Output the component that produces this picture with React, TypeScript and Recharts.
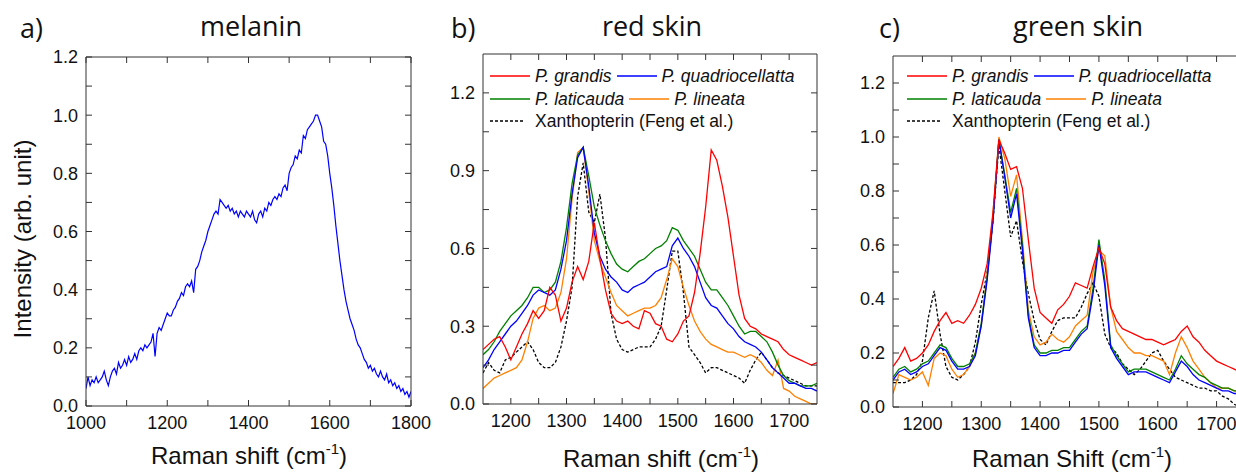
import { Legend, Line, LineChart, XAxis, YAxis } from "recharts";

// Panel a: melanin, sampled every 5 cm-1 from 1000 to 1800
const SHIFT_A = Array.from({ length: 161 }, (_, i) => 1000 + 5 * i);
const MELANIN = [
  0.06, 0.10, 0.07, 0.09, 0.08, 0.10, 0.08, 0.09, 0.10, 0.12,
  0.09, 0.07, 0.10, 0.12, 0.13, 0.11, 0.15, 0.13, 0.14, 0.16,
  0.14, 0.17, 0.15, 0.16, 0.18, 0.16, 0.19, 0.20, 0.19, 0.21,
  0.20, 0.21, 0.22, 0.25, 0.17, 0.25, 0.27, 0.26, 0.28, 0.30,
  0.32, 0.31, 0.31, 0.33, 0.34, 0.36, 0.37, 0.39, 0.38, 0.41,
  0.42, 0.41, 0.43, 0.39, 0.47, 0.48, 0.50, 0.53, 0.55, 0.57,
  0.60, 0.62, 0.64, 0.66, 0.67, 0.66, 0.71, 0.70, 0.69, 0.68,
  0.69, 0.67, 0.68, 0.66, 0.67, 0.65, 0.67, 0.66, 0.65, 0.67,
  0.66, 0.65, 0.67, 0.64, 0.63, 0.66, 0.67, 0.65, 0.68, 0.67,
  0.70, 0.69, 0.71, 0.72, 0.71, 0.73, 0.72, 0.75, 0.76, 0.74,
  0.80, 0.82, 0.83, 0.86, 0.85, 0.88, 0.87, 0.93, 0.92, 0.95,
  0.96, 0.97, 0.98, 1.00, 1.00, 0.98, 0.96, 0.91, 0.90, 0.86,
  0.80, 0.75, 0.69, 0.62, 0.56, 0.50, 0.45, 0.40, 0.36, 0.33,
  0.30, 0.28, 0.26, 0.23, 0.21, 0.20, 0.18, 0.16, 0.15, 0.13,
  0.14, 0.12, 0.13, 0.11, 0.10, 0.12, 0.10, 0.09, 0.11, 0.08,
  0.09, 0.07, 0.08, 0.06, 0.07, 0.05, 0.06, 0.04, 0.05, 0.03,
  0.05,
];

// Panels b and c, sampled every 10 cm-1 from 1150 to 1750
const SHIFT_BC = Array.from({ length: 61 }, (_, i) => 1150 + 10 * i);

const RED_GRANDIS = [
  0.21, 0.23, 0.25, 0.26, 0.22, 0.17, 0.22, 0.27, 0.31, 0.36,
  0.33, 0.36, 0.45, 0.42, 0.32, 0.37, 0.47, 0.53, 0.48, 0.55,
  0.70, 0.56, 0.44, 0.35, 0.32, 0.31, 0.32, 0.30, 0.29, 0.36,
  0.35, 0.31, 0.30, 0.25, 0.24, 0.27, 0.32, 0.34, 0.43, 0.58,
  0.76, 0.98, 0.94, 0.84, 0.72, 0.57, 0.42, 0.33, 0.30, 0.29,
  0.27, 0.26, 0.25, 0.24, 0.21, 0.19, 0.18, 0.17, 0.16, 0.15,
  0.16,
];
const RED_QUADRI = [
  0.14, 0.17, 0.21, 0.24, 0.27, 0.30, 0.32, 0.35, 0.38, 0.42,
  0.44, 0.43, 0.42, 0.44, 0.52, 0.63, 0.81, 0.95, 0.99, 0.84,
  0.66, 0.57, 0.52, 0.49, 0.47, 0.44, 0.43, 0.45, 0.46, 0.47,
  0.49, 0.51, 0.52, 0.53, 0.61, 0.64, 0.60, 0.57, 0.53, 0.47,
  0.41, 0.38, 0.37, 0.34, 0.31, 0.29, 0.26, 0.24, 0.23, 0.22,
  0.20, 0.17, 0.14, 0.12, 0.10, 0.08, 0.08, 0.07, 0.06, 0.06,
  0.05,
];
const RED_LATI = [
  0.19, 0.21, 0.24, 0.28, 0.31, 0.34, 0.36, 0.38, 0.41, 0.45,
  0.45, 0.43, 0.44, 0.47, 0.55, 0.68, 0.85, 0.96, 0.99, 0.88,
  0.76, 0.69, 0.63, 0.58, 0.54, 0.52, 0.51, 0.53, 0.55, 0.56,
  0.58, 0.60, 0.61, 0.63, 0.68, 0.67, 0.63, 0.60, 0.57, 0.52,
  0.47, 0.44, 0.44, 0.41, 0.38, 0.34, 0.30, 0.27, 0.28, 0.28,
  0.26, 0.24, 0.20, 0.15, 0.11, 0.09, 0.08, 0.07, 0.07, 0.07,
  0.08,
];
const RED_LINEATA = [
  0.06, 0.08, 0.10, 0.11, 0.12, 0.13, 0.14, 0.17, 0.24, 0.33,
  0.37, 0.38, 0.36, 0.37, 0.43, 0.56, 0.79, 0.97, 0.99, 0.82,
  0.63, 0.55, 0.49, 0.43, 0.38, 0.36, 0.34, 0.35, 0.36, 0.37,
  0.37, 0.38, 0.41, 0.48, 0.56, 0.53, 0.45, 0.38, 0.32, 0.28,
  0.25, 0.23, 0.22, 0.21, 0.20, 0.20, 0.19, 0.18, 0.19, 0.18,
  0.16, 0.13, 0.11, 0.17, 0.06, 0.05, 0.03, 0.02, 0.01, 0.00,
  0.00,
];
const RED_XANTHO = [
  0.12, 0.16, 0.13, 0.12, 0.17, 0.18, 0.20, 0.22, 0.24, 0.21,
  0.16, 0.14, 0.14, 0.16, 0.22, 0.32, 0.45, 0.80, 0.93, 0.74,
  0.70, 0.81, 0.64, 0.35, 0.25, 0.21, 0.20, 0.21, 0.22, 0.22,
  0.22, 0.25, 0.30, 0.44, 0.59, 0.59, 0.43, 0.22, 0.19, 0.16,
  0.12, 0.14, 0.14, 0.13, 0.12, 0.11, 0.10, 0.08, 0.13, 0.17,
  0.20, 0.17, 0.14, 0.12, 0.11, 0.10, 0.09, 0.08, 0.07, 0.07,
  0.07,
];

const GREEN_GRANDIS = [
  0.15, 0.18, 0.22, 0.17, 0.18, 0.20, 0.23, 0.28, 0.32, 0.35,
  0.31, 0.32, 0.31, 0.34, 0.38, 0.44, 0.53, 0.72, 0.99, 0.94,
  0.88, 0.89, 0.81, 0.62, 0.44, 0.35, 0.33, 0.31, 0.36, 0.38,
  0.41, 0.46, 0.45, 0.44, 0.52, 0.59, 0.53, 0.37, 0.32, 0.29,
  0.28, 0.27, 0.26, 0.25, 0.25, 0.24, 0.23, 0.24, 0.25, 0.28,
  0.30, 0.26, 0.24, 0.21, 0.19, 0.17, 0.16, 0.15, 0.14, 0.13,
  0.13,
];
const GREEN_QUADRI = [
  0.10, 0.13, 0.14, 0.12, 0.13, 0.15, 0.16, 0.19, 0.22, 0.21,
  0.17, 0.14, 0.14, 0.15, 0.19, 0.30, 0.47, 0.69, 0.99, 0.85,
  0.70, 0.79, 0.58, 0.33, 0.22, 0.19, 0.19, 0.20, 0.20, 0.21,
  0.21, 0.24, 0.27, 0.29, 0.42, 0.60, 0.45, 0.22, 0.18, 0.15,
  0.12, 0.13, 0.13, 0.13, 0.12, 0.11, 0.10, 0.09, 0.13, 0.17,
  0.15, 0.12, 0.10, 0.09, 0.08, 0.07, 0.06, 0.06, 0.05, 0.05,
  0.05,
];
const GREEN_LATI = [
  0.11, 0.14, 0.15, 0.13, 0.14, 0.16, 0.17, 0.20, 0.23, 0.22,
  0.18, 0.15, 0.15, 0.16, 0.20, 0.31, 0.48, 0.70, 0.99, 0.86,
  0.72, 0.81, 0.60, 0.34, 0.23, 0.20, 0.20, 0.21, 0.21, 0.22,
  0.22, 0.25, 0.28, 0.30, 0.44, 0.62, 0.47, 0.23, 0.19, 0.16,
  0.13, 0.14, 0.14, 0.14, 0.13, 0.12, 0.11, 0.10, 0.14, 0.19,
  0.16, 0.14, 0.12, 0.11, 0.09, 0.08, 0.07, 0.07, 0.06, 0.06,
  0.06,
];
const GREEN_LINEATA = [
  0.05, 0.12, 0.11, 0.10, 0.11, 0.13, 0.08, 0.18, 0.20, 0.19,
  0.14, 0.11, 0.12, 0.15, 0.20, 0.30, 0.49, 0.72, 1.00, 0.92,
  0.78, 0.86, 0.62, 0.36, 0.26, 0.23, 0.24, 0.27, 0.25, 0.24,
  0.26, 0.30, 0.32, 0.34, 0.50, 0.58, 0.56, 0.37, 0.28, 0.25,
  0.22, 0.20, 0.20, 0.19, 0.19, 0.18, 0.17, 0.12, 0.20, 0.26,
  0.22, 0.17, 0.14, 0.11, 0.09, 0.07, 0.07, 0.07, 0.06, 0.06,
  0.05,
];
const GREEN_XANTHO = [
  0.09, 0.09, 0.09, 0.10, 0.12, 0.17, 0.33, 0.43, 0.27, 0.15,
  0.11, 0.10, 0.12, 0.15, 0.24, 0.38, 0.50, 0.69, 0.97, 0.80,
  0.63, 0.69, 0.54, 0.42, 0.32, 0.25, 0.23, 0.28, 0.32, 0.33,
  0.33, 0.33, 0.37, 0.42, 0.46, 0.41, 0.27, 0.22, 0.20, 0.16,
  0.14, 0.12, 0.14, 0.17, 0.20, 0.21, 0.17, 0.14, 0.11, 0.10,
  0.09, 0.08, 0.07, 0.07, 0.06, 0.06, 0.04, 0.03, 0.01, 0.00,
  0.00,
];

const SPECIES = [
  { key: "grandis", name: "P. grandis", color: "#ff0000", italic: true },
  { key: "quadri", name: "P. quadriocellatta", color: "#0000ff", italic: true },
  { key: "lati", name: "P. laticauda", color: "#008000", italic: true },
  { key: "lineata", name: "P. lineata", color: "#ff8000", italic: true },
  { key: "xantho", name: "Xanthopterin (Feng et al.)", color: "#000000", italic: false, dash: "3 2" },
];
const LEGEND_ROWS = [[0, 1], [2, 3], [4]];
const DRAW_ORDER = [4, 3, 2, 1, 0];

const X_MAJOR_A = [1000, 1200, 1400, 1600, 1800];
const X_MINOR_A = [1100, 1300, 1500, 1700];
const Y_MAJOR_AC = [0, 0.2, 0.4, 0.6, 0.8, 1.0, 1.2];
const Y_MINOR_AC = [0.1, 0.3, 0.5, 0.7, 0.9, 1.1];
const X_MAJOR_BC = [1200, 1300, 1400, 1500, 1600, 1700];
const X_MINOR_BC = [1250, 1350, 1450, 1550, 1650];
const Y_MAJOR_B = [0, 0.3, 0.6, 0.9, 1.2];
const Y_MINOR_B = [0.15, 0.45, 0.75, 1.05];

const dataA = SHIFT_A.map((shift, i) => ({ shift, melanin: MELANIN[i] }));
const dataB = SHIFT_BC.map((shift, i) => ({
  shift,
  grandis: RED_GRANDIS[i],
  quadri: RED_QUADRI[i],
  lati: RED_LATI[i],
  lineata: RED_LINEATA[i],
  xantho: RED_XANTHO[i],
}));
const dataC = SHIFT_BC.map((shift, i) => ({
  shift,
  grandis: GREEN_GRANDIS[i],
  quadri: GREEN_QUADRI[i],
  lati: GREEN_LATI[i],
  lineata: GREEN_LINEATA[i],
  xantho: GREEN_XANTHO[i],
}));

const SANS = "'Liberation Sans', Arial, sans-serif";
const TITLE = "'Open Sans', 'Noto Sans', sans-serif";
const FRAME = "#333";
const tickStyle = { fill: "#111", fontSize: 18, fontFamily: SANS };

const withMinor = (major: number[], minor: number[]) => [...major, ...minor].sort((a, b) => a - b);
const fmt = (major: number[], digits: number) => (v: number) =>
  major.some((m) => Math.abs(m - v) < 1e-9) ? v.toFixed(digits) : "";

function SpeciesLegend() {
  return (
    <div style={{ fontFamily: SANS, fontSize: 17.5, color: "#111", lineHeight: "22.5px" }}>
      {LEGEND_ROWS.map((row, r) => (
        <div key={r} style={{ display: "flex", alignItems: "center", whiteSpace: "nowrap" }}>
          {row.map((idx) => {
            const s = SPECIES[idx];
            return (
              <span key={s.key} style={{ display: "flex", alignItems: "center", marginRight: 5 }}>
                <svg width={40} height={10} style={{ marginRight: 5 }}>
                  <line x1={0} x2={s.dash ? 35 : 40} y1={5} y2={5} stroke={s.color} strokeWidth={1.6} strokeDasharray={s.dash} />
                </svg>
                <span style={{ fontStyle: s.italic ? "italic" : "normal" }}>{s.name}</span>
              </span>
            );
          })}
        </div>
      ))}
    </div>
  );
}

function Panel({ data, width, margin, xDomain, yDomain, xMajor, xMinor, yMajor, yMinor, yDigits, legendAt, children }: any) {
  const xTicks = withMinor(xMajor, xMinor);
  const yTicks = withMinor(yMajor, yMinor);
  return (
    <div style={{ position: "absolute", left: 0, top: 0 }}>
      <LineChart width={width} height={472} data={data} margin={margin}>
        <XAxis xAxisId="b" dataKey="shift" type="number" domain={xDomain} ticks={xTicks} interval={0}
          tickFormatter={fmt(xMajor, 0)} height={30} tickSize={-6} tickMargin={16} stroke={FRAME} tick={tickStyle} allowDataOverflow />
        <XAxis xAxisId="t" dataKey="shift" orientation="top" type="number" domain={xDomain} ticks={xTicks} interval={0}
          tickFormatter={() => ""} height={1} tickSize={-6} stroke={FRAME} allowDataOverflow />
        <YAxis yAxisId="l" type="number" domain={yDomain} ticks={yTicks} interval={0}
          tickFormatter={fmt(yMajor, yDigits)} width={40} tickSize={-6} tickMargin={14} stroke={FRAME} tick={tickStyle} allowDataOverflow />
        <YAxis yAxisId="r" orientation="right" type="number" domain={yDomain} ticks={yTicks} interval={0}
          tickFormatter={() => ""} width={1} tickSize={-6} stroke={FRAME} allowDataOverflow />
        {legendAt && (
          <Legend layout="horizontal" verticalAlign="middle" align="center"
            wrapperStyle={{ left: legendAt[0], top: legendAt[1], width: "auto", height: "auto" }}
            content={() => <SpeciesLegend />} />
        )}
        {children}
      </LineChart>
    </div>
  );
}

function speciesLines() {
  return DRAW_ORDER.map((idx) => {
    const s = SPECIES[idx];
    return (
      <Line key={s.key} xAxisId="b" yAxisId="l" type="linear" dataKey={s.key} name={s.name} stroke={s.color}
        strokeWidth={1.3} strokeDasharray={s.dash} dot={false} isAnimationActive={false} />
    );
  });
}

export default function App() {
  return (
    <div style={{ position: "fixed", left: 0, top: 0, width: 1236, height: 472, overflow: "hidden", background: "#fff" }}>
      <Panel data={dataA} width={1236} margin={{ top: 56, right: 824, bottom: 36, left: 46 }}
        xDomain={[1000, 1800]} yDomain={[0, 1.2]} xMajor={X_MAJOR_A} xMinor={X_MINOR_A}
        yMajor={Y_MAJOR_AC} yMinor={Y_MINOR_AC} yDigits={1}>
        <Line xAxisId="b" yAxisId="l" type="linear" dataKey="melanin" stroke="#0000ff" strokeWidth={1.2}
          dot={false} isAnimationActive={false} />
      </Panel>
      <Panel data={dataB} width={1236} margin={{ top: 53, right: 418, bottom: 38, left: 443 }}
        xDomain={[1150, 1750]} yDomain={[0, 1.35]} xMajor={X_MAJOR_BC} xMinor={X_MINOR_BC}
        yMajor={Y_MAJOR_B} yMinor={Y_MINOR_B} yDigits={1} legendAt={[490, 65]}>
        {speciesLines()}
      </Panel>
      <Panel data={dataC} width={1260} margin={{ top: 55, right: 13, bottom: 35, left: 853 }}
        xDomain={[1150, 1750]} yDomain={[0, 1.3]} xMajor={X_MAJOR_BC} xMinor={X_MINOR_BC}
        yMajor={Y_MAJOR_AC} yMinor={Y_MINOR_AC} yDigits={1} legendAt={[907, 65]}>
        {speciesLines()}
      </Panel>
      <svg width={1236} height={472} style={{ position: "absolute", left: 0, top: 0, pointerEvents: "none" }}>
        <g fontFamily={TITLE} fontSize={27} fill="#111">
          <text x={20} y={38}>a)</text>
          <text x={251} y={36} textAnchor="middle">melanin</text>
          <text x={451} y={38}>b)</text>
          <text x={652} y={36} textAnchor="middle">red skin</text>
          <text x={879} y={38}>c)</text>
          <text x={1078} y={36} textAnchor="middle">green skin</text>
        </g>
        <g fontFamily={SANS} fontSize={24} fill="#111">
          <text x={249} y={464} textAnchor="middle">
            Raman shift (cm<tspan fontSize={15} dy={-10}>-1</tspan><tspan dy={10}>)</tspan>
          </text>
          <text x={661} y={467} textAnchor="middle">
            Raman shift (cm<tspan fontSize={15} dy={-10}>-1</tspan><tspan dy={10}>)</tspan>
          </text>
          <text x={1072} y={467} textAnchor="middle">
            Raman Shift (cm<tspan fontSize={15} dy={-10}>-1</tspan><tspan dy={10}>)</tspan>
          </text>
          <text x={31} y={239} fontSize={24} textAnchor="middle" transform="rotate(-90 31 239)">
            Intensity (arb. unit)
          </text>
        </g>
      </svg>
    </div>
  );
}
